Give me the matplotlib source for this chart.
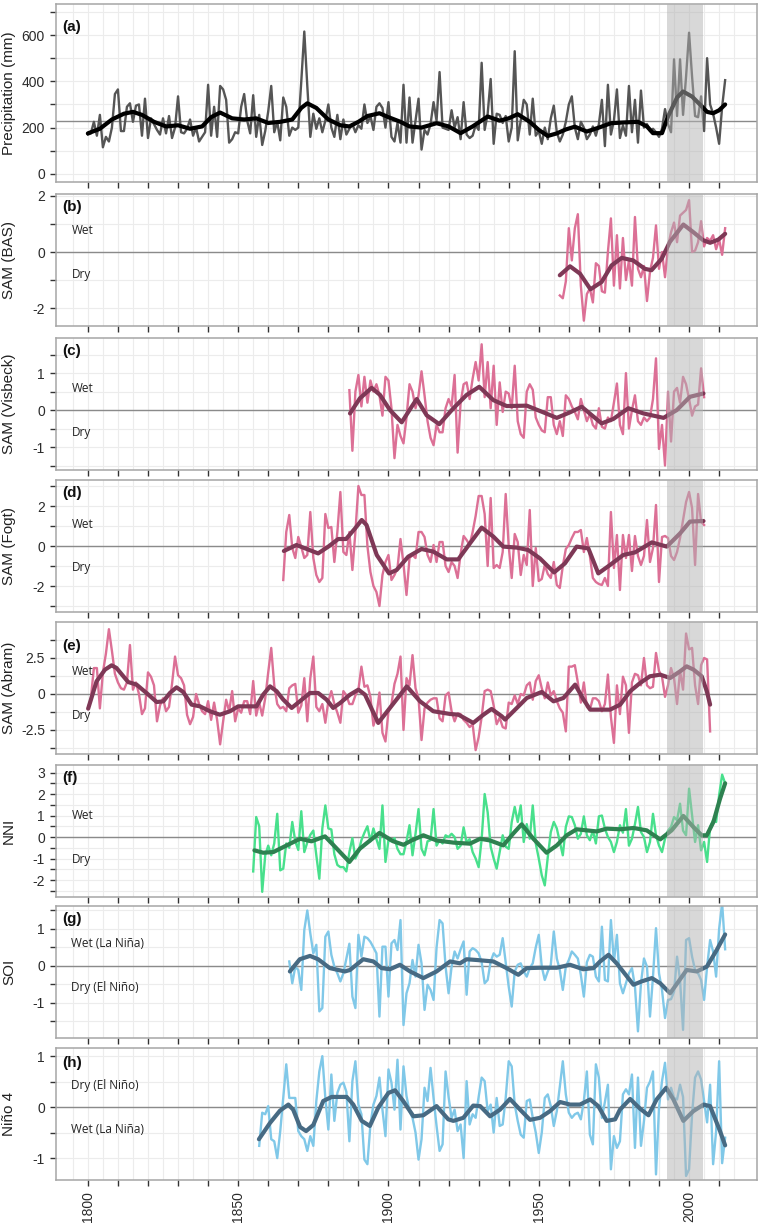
import matplotlib
matplotlib.use("Agg")
from matplotlib import pyplot as plt
from matplotlib.ticker import FixedLocator, FuncFormatter
import numpy as np

# ---- data ----
precip_start = 1800
precip = [170, 175, 225, 165, 255, 115, 160, 140, 200, 345,
          365, 185, 185, 290, 305, 225, 295, 300, 165, 325,
          155, 240, 215, 190, 170, 240, 175, 250, 155, 200,
          335, 180, 175, 195, 235, 165, 200, 140, 160, 180,
          385, 165, 290, 160, 380, 365, 320, 135, 150, 180,
          175, 290, 345, 230, 175, 340, 160, 255, 125, 185,
          270, 380, 180, 225, 145, 330, 290, 165, 200, 190,
          200, 400, 615, 380, 160, 260, 195, 240, 180, 230,
          300, 200, 160, 255, 150, 235, 170, 195, 215, 180,
          210, 195, 300, 220, 250, 190, 290, 305, 285, 200,
          310, 160, 140, 220, 135, 385, 135, 330, 135, 230,
          325, 105, 190, 170, 215, 310, 230, 440, 200, 195,
          190, 275, 200, 245, 150, 310, 170, 155, 165, 210,
          190, 480, 190, 260, 410, 130, 260, 255, 220, 250,
          140, 200, 530, 145, 230, 320, 300, 170, 325, 165,
          185, 130, 200, 150, 240, 295, 180, 140, 170, 225,
          300, 335, 200, 150, 225, 200, 150, 170, 205, 165,
          215, 320, 120, 385, 170, 230, 365, 155, 210, 165,
          380, 180, 320, 135, 360, 200, 215, 185, 195, 180,
          160, 195, 280, 215, 180, 495, 250, 495, 255, 420,
          610, 420, 250, 245, 335, 185, 500, 300, 260, 200,
          130, 290, 405]
precip_sm_years = [1800, 1804, 1808, 1812, 1815, 1818, 1822, 1826, 1830, 1834,
                   1838, 1841, 1844, 1848, 1852, 1856, 1860, 1864, 1868, 1871,
                   1873, 1876, 1880, 1884, 1887, 1890, 1893, 1897, 1900, 1904,
                   1907, 1911, 1916, 1920, 1924, 1928, 1933, 1937, 1940, 1943,
                   1947, 1950, 1953, 1956, 1959, 1962, 1966, 1970, 1974, 1978,
                   1983, 1986, 1988, 1991, 1993, 1996, 1998, 2001, 2004, 2006,
                   2008, 2010, 2012]
precip_sm = [175, 195, 235, 260, 268, 255, 225, 205, 210, 195,
             205, 245, 265, 240, 235, 240, 220, 225, 235, 285,
             305, 285, 235, 210, 205, 225, 250, 262, 245, 225,
             205, 200, 219, 205, 176, 205, 248, 230, 240, 258,
             225, 190, 164, 175, 192, 204, 183, 200, 219, 222,
             225, 205, 176, 176, 248, 330, 356, 334, 295, 268,
             262, 275, 300]

bas_start = 1957
bas = [-1.55, -1.65, -1.05,
       0.85, -0.3, 0.85, 1.35, -1.2, -2.45, -1.5, -1.3, -1.8, -0.4,
       -0.5, -1.4, -1.45, 0.0, 1.2, -1.2, 0.6, -1.3, 0.5, -1.0,
       -0.3, -1.2, 1.25, -0.6, -0.9, -0.5, -1.75, -0.7, -0.2, 0.95,
       -0.6, 0.0, -0.9, 0.2, 0.7, 1.05, 0.35, 1.3, 1.4, 1.5,
       1.85, 0.0, 0.05, 0.35, 1.1, 0.2, 0.5, 0.4, 0.6, 0.1,
       0.45, -0.1, 0.85]
bas_sm_years = [1957, 1960.4, 1963.7, 1967.2, 1970.9, 1974.2, 1977.6, 1981.4, 1985.3,
                1987.5, 1990.9, 1993.6, 1998.1, 2001.4, 2004.7, 2007.0, 2009.7, 2012]
bas_sm = [-0.83, -0.51, -0.77, -1.33, -1.07, -0.48, -0.21, -0.3, -0.6,
          -0.65, -0.24, 0.36, 0.98, 0.71, 0.42, 0.33, 0.44, 0.65]

visbeck_start = 1887
visbeck = [0.54, -1.1, 0.5,
           0.95, 0.1, 0.9, 0.2, 0.8, 0.5, 0.7, 0.4, -0.15, 0.9,
           0.8, 0.05, -1.3, -0.4, -0.7, -0.9, -0.2, 0.7, 0.5, 0.05,
           0.4, 1.05, 0.4, -0.3, -0.75, -0.95, -0.4, -0.6, -0.6, 0.05,
           0.3, 0.1, 0.95, -1.15, 0.2, 0.7, 0.75, 0.3, 0.85, 1.3,
           0.8, 1.78, 0.35, 1.3, 0.05, 1.2, -0.4, 0.75, -0.05, 0.5,
           0.45, 0.05, 1.2, -0.3, -0.65, -0.75, 0.5, 0.7, 0.55, -0.2,
           -0.4, -0.55, -0.6, 0.35, 0.35, -0.4, -0.65, -0.3, -0.7, 0.4,
           0.3, 0.1, -0.05, -0.25, 0.3, 0.0, -0.3, -0.1, -0.4, -0.5,
           0.05, -0.45, -0.5, -0.2, -0.3, 0.2, 0.72, -0.4, -0.65, 1.0,
           -0.5, 0.0, 0.4, -0.3, -0.4, -0.2, -0.3, -0.2, 0.3, 1.4,
           -1.05, -0.4, -1.5, 0.5, -0.85, 0.5, 0.6, 0.2, 0.9, 0.7,
           0.3, -0.15, 0.1, 0.15, 1.13, 0.35]
visbeck_sm_years = [1887.2, 1890.5, 1894.4, 1897.2, 1900.5, 1904.4, 1907.7, 1909.4,
                    1912.7, 1916.9, 1921.6, 1926.0, 1930.2, 1934.9, 1939.3, 1946.0,
                    1951.5, 1956.0, 1960.4, 1964.3, 1970.9, 1974.8, 1979.8, 1984.8,
                    1991.5, 1995.9, 2000.3, 2004.8]
visbeck_sm = [-0.09, 0.32, 0.6, 0.41, 0.0, -0.33, 0.09, 0.3,
              -0.14, -0.38, 0.05, 0.41, 0.63, 0.27, 0.11, 0.12,
              -0.06, -0.21, -0.06, 0.09, -0.36, -0.24, 0.05, -0.09,
              -0.21, 0.0, 0.36, 0.45]

fogt_start = 1865
fogt = [-1.7, 0.7, 1.55, -0.1, -0.6,
        0.45, -0.05, -0.6, -0.45, 1.7, -0.6, -1.45, -1.8, -1.6, 1.6,
        0.9, 0.95, -0.8, 0.7, 2.7, -0.3, -0.45, 0.7, -1.2, 0.7,
        3.0, 2.55, 2.55, 0.0, -1.3, -2.0, -2.3, -3.0, -1.45, -0.8,
        -0.45, -1.7, -1.45, -1.1, 0.35, -0.9, -2.45, -0.6, -0.45, -0.6,
        0.7, 0.7, 0.45, -0.45, -0.8, 0.05, -0.8, 0.2, 0.2, -1.0,
        -1.3, -0.8, -1.0, -1.6, -0.4, 0.5, 0.3, 0.05, 0.7, 1.5,
        2.5, 2.5, 1.6, -1.0, 2.4, -1.1, -0.95, -1.1, -0.3, 2.6,
        0.0, -1.6, 0.6, 0.2, -1.45, -0.45, -0.95, 1.8, -2.0, -0.1,
        -1.75, -1.65, -0.95, -1.4, -1.6, -0.8, -1.95, -2.1, -1.0, -0.15,
        0.05, 0.4, 0.7, 0.7, 0.8, -0.3, 0.4, -0.5, -1.6, -1.8,
        -1.9, -1.95, -1.6, -2.0, 1.7, -1.1, 0.55, -2.2, 0.55, -0.6,
        0.55, -1.25, 0.5, -0.5, -0.95, -0.5, 1.3, -0.8, -0.1, 2.05,
        -1.8, 0.45, 0.5, 0.4, -0.5, -0.7, -0.3, 0.4, 1.3, 2.2,
        2.7, 1.9, -0.95, 2.6, 1.2, 1.05]
fogt_sm_years = [1865.2, 1869.4, 1876.6, 1880.0, 1883.3, 1885.9, 1888.9, 1891.1,
                 1892.7, 1896.1, 1900.2, 1902.7, 1906.6, 1911.0, 1914.9, 1919.4,
                 1923.2, 1927.1, 1931.0, 1934.9, 1938.2, 1942.7, 1946.5, 1950.4,
                 1955.1, 1958.7, 1962.6, 1966.5, 1969.8, 1973.7, 1978.1, 1982.0,
                 1987.6, 1992.6, 1997.0, 2000.3, 2004.8]
fogt_sm = [-0.25, 0.05, -0.37, -0.03, 0.35, 0.35, 0.88, 1.3,
           1.05, -0.45, -1.37, -1.2, -0.53, -0.15, -0.28, -0.67,
           -0.67, 0.13, 0.92, 0.47, -0.03, -0.08, -0.2, -0.62,
           -1.32, -0.87, -0.03, -0.12, -1.37, -0.95, -0.45, -0.32,
           0.18, -0.03, 0.63, 1.22, 1.25]

abram_start = 1800
abram = [-1.0, -0.3, 1.8, 1.8, -1.0, 1.5, 2.8, 4.5, 3.0, 1.4,
         0.8, 0.4, 0.3, 0.8, 3.4, 0.3, 0.8, 0.0, -1.4, -1.0,
         1.5, 1.2, 0.6, -1.9, -0.8, -0.3, -1.2, -0.9, 0.7, 2.6,
         1.3, 1.1, 0.6, -1.45, -2.1, -1.6, 0.0, -0.7, -1.2, -1.4,
         -0.5, -1.8, -0.6, -1.8, -3.5, -1.9, -0.4, -1.2, 0.2, -1.9,
         -1.0, -1.3, -0.5, -0.5, -1.4, 0.9, -1.5, -0.6, -1.5, -0.3,
         1.5, 3.2, 0.6, -0.7, -1.0, -0.9, -1.2, 0.4, 0.6, 0.7,
         -1.3, -0.8, 1.1, -1.9, 1.1, 2.6, -0.9, -1.2, -0.7, -2.0,
         -0.5, 0.2, -0.7, -1.3, -2.0, 0.2, -0.1, -0.7, -0.7, -0.1,
         0.3, 1.9, 0.5, 0.6, -0.2, -2.2, -1.5, 0.1, -2.7, -3.3,
         -1.2, -0.7, 0.7, 1.4, 2.6, -2.5, 1.1, 0.6, 2.7, 0.4,
         -0.3, -3.2, -1.0, -0.6, -0.4, -0.3, -0.3, -1.7, -1.9, -0.1,
         0.1, -1.2, -1.9, -1.35, -1.4, -1.8, -2.0, -2.3, -2.1, -3.9,
         -3.0, -1.6, 0.2, 0.3, 0.2, -0.8, -2.1, -1.65, -2.3, -2.4,
         -0.6, -0.7, -0.1, -0.7, 0.0, -0.1, 0.6, 0.8, -0.4, 0.9,
         1.3, 0.4, -0.3, 0.8, -0.1, 0.2, -0.5, -1.0, -1.3, -2.6,
         1.9, 1.9, 2.0, 0.8, -0.6, 0.8, -0.9, -1.1, -0.3, -0.3,
         -0.5, -1.2, -0.7, 1.35, -1.6, -3.4, 0.6, -1.4, 1.2, 0.6,
         -2.7, 0.8, 1.4, 1.3, 0.6, 2.5, 0.6, 0.4, 0.5, 2.85,
         1.6, 1.2, -0.2, 0.6, 1.8, 1.1, -0.7, 1.6, 0.3, 4.2,
         3.1, 3.2, 0.6, -0.7, 2.0, 2.5, 2.4, -2.6]
abram_sm_years = [1800.1, 1802.9, 1805.7, 1807.9, 1809.5, 1811.8, 1813.4, 1816.2,
                  1819.5, 1822.9, 1825.1, 1827.3, 1829.5, 1831.7, 1834.5, 1837.3,
                  1840.6, 1843.9, 1847.3, 1850.0, 1852.8, 1856.1, 1858.3, 1860.6,
                  1862.8, 1865.0, 1867.8, 1870.5, 1873.9, 1876.6, 1879.4, 1881.6,
                  1883.9, 1887.2, 1890.0, 1892.2, 1896.6, 1906.1, 1910.5, 1914.9,
                  1920.5, 1923.3, 1928.2, 1931.6, 1934.3, 1937.7, 1938.8, 1942.7,
                  1946.0, 1951.0, 1954.9, 1958.2, 1962.1, 1964.9, 1967.1, 1973.7,
                  1977.1, 1980.4, 1983.7, 1987.0, 1990.4, 1993.7, 1997.0, 1999.2,
                  2001.5, 2004.2, 2005.9, 2007.0]
abram_sm = [-1.02, 0.88, 1.69, 1.99, 1.81, 1.23, 0.83, 0.65,
            0.07, -0.56, -0.51, 0.07, 0.46, 0.14, -0.74, -0.86,
            -1.2, -1.44, -1.2, -0.86, -0.86, -0.86, -0.05, 0.53,
            0.19, -0.39, -0.97, -0.51, 0.07, 0.07, -0.39, -0.97,
            -0.63, -0.05, 0.3, -0.05, -2.01, 0.53, -0.51, -1.2,
            -1.39, -1.44, -2.01, -1.44, -1.04, -1.55, -1.78, -0.97,
            -0.28, 0.14, -0.51, -0.28, 0.65, -0.39, -1.09, -1.09,
            -0.74, 0.19, 0.76, 1.23, 1.34, 1.11, 1.57, 1.92,
            1.69, 1.23, 0.19, -0.74]

nni_start = 1855
nni = [-1.6, 0.93, 0.5, -2.55, -0.85,
       -0.4, -0.85, -0.3, 1.08, -1.55, -1.47, -0.3, -0.5, 0.7, -0.2,
       -0.6, 1.2, -0.7, -0.25, 0.1, 0.3, -0.85, -1.94, 0.4, 1.47,
       0.4, 0.35, -0.8, -1.3, -1.4, -1.4, -1.6, -0.7, -0.05, -1.0,
       -0.7, -0.15, 0.2, 0.5, -0.2, 0.4, -0.1, -0.55, 1.47, -1.16,
       -0.15, -0.2, -0.05, -0.55, -0.8, -0.8, -0.2, 0.55, -0.85, 0.15,
       1.3, -0.55, -0.85, -0.2, -0.15, 1.3, -0.4, -0.15, -0.3, 0.08,
       0.0, 0.15, 0.0, -0.55, -0.4, 0.45, -0.25, -0.1, -0.7, -1.0,
       -1.4, -0.1, 2.0, 1.15, -0.45, -1.0, -1.47, -0.7, 0.08, -0.45,
       -0.55, 0.7, 1.4, 0.7, 1.47, -0.23, 0.6, -0.08, 1.47, -0.3,
       -1.0, -1.78, -2.25, -0.93, 0.23, 0.7, 0.4, -0.23, -0.85, 0.47,
       0.96, 0.93, 0.55, -0.08, 0.15, 0.96, 0.08, -0.15, 0.3, -0.3,
       0.96, 1.0, 0.4, 0.0, -0.23, -0.7, -0.23, 0.55, 0.2, 1.3,
       -0.4, -0.08, 0.6, 1.4, 0.23, 0.0, -0.7, -0.23, 1.08, 0.08,
       -0.4, -0.7, -0.08, 0.3, 0.47, 0.93, 0.78, 1.55, 0.3, 0.08,
       2.25, 1.0, -0.23, 0.55, -0.62, -0.23, -1.16, 0.47, 0.78, 0.7,
       1.94, 2.9, 2.5]
nni_sm_years = [1855.4, 1858.3, 1861.7, 1865.0, 1870.6, 1874.4, 1878.9, 1882.8,
                1887.0, 1890.5, 1897.0, 1901.6, 1905.0, 1907.7, 1911.6, 1916.0,
                1921.6, 1927.1, 1930.5, 1933.8, 1938.2, 1941.5, 1944.3, 1948.2,
                1952.6, 1956.0, 1959.3, 1962.6, 1965.9, 1969.3, 1972.6, 1977.0,
                1981.5, 1985.9, 1990.4, 1994.2, 1998.1, 2001.4, 2004.2, 2005.9,
                2008.1, 2010.3, 2012]
nni_sm = [-0.62, -0.73, -0.7, -0.47, -0.08, -0.2, 0.03, -0.54,
          -1.16, -0.54, 0.19, -0.2, -0.36, -0.16, 0.08, -0.16,
          -0.26, -0.31, -0.08, -0.16, -0.39, 0.16, 0.59, -0.08,
          -0.73, -0.39, 0.08, 0.36, 0.31, 0.26, 0.39, 0.36,
          0.42, 0.31, -0.11, 0.31, 0.98, 0.47, 0.08, 0.08,
          0.7, 1.78, 2.5]

soi_start = 1867
soi = [0.12, -0.47, -0.02,
       -0.11, -0.65, 0.97, 1.5, 0.88, 0.34, 0.57, -1.23, -1.14, 0.79,
       0.93, 0.3, -0.02, -0.2, -0.42, -0.2, 0.2, 0.6, -0.83, -1.14,
       0.84, 0.25, 0.79, 0.75, 0.65, 0.5, 0.34, -1.37, 0.52, 0.52,
       -0.83, 0.61, 0.7, 0.43, 1.24, -1.6, -0.74, -0.47, 0.16, -0.29,
       0.57, 0.07, -1.19, -0.51, -0.65, -0.92, 0.5, 1.24, 1.15, -0.02,
       -0.74, -0.02, 0.39, 0.2, 0.45, 0.66, -0.78, 0.39, 0.48, 0.43,
       0.34, 0.1, -0.47, -0.38, 0.12, 0.34, 0.25, 0.3, 0.75, 0.1,
       -0.56, -1.1, -0.15, 0.03, 0.07, -0.15, -0.29, -0.06, 0.07, 0.5,
       0.84, -0.02, -0.38, -0.15, 0.03, 0.93, 0.2, -0.11, -0.65, -0.02,
       0.16, 0.39, 0.3, 0.2, -0.24, -0.83, 0.1, 0.3, 0.25, -0.29,
       -0.42, 1.06, -0.38, -0.42, 1.24, 0.12, 0.84, -0.47, -0.74, -0.47,
       -0.2, -0.06, -0.56, -1.77, -0.47, 0.2, -0.02, -1.37, -0.29, 1.02,
       -0.2, -0.65, -1.41, -0.92, -0.9, -0.7, 0.25, -0.38, -1.73, 0.7,
       0.75, 0.25, -0.11, -0.2, -0.38, -0.92, -0.02, 0.7, 0.39, -0.29,
       1.0, 1.7, 0.45]
soi_sm_years = [1867.2, 1870.5, 1873.9, 1876.6, 1880.5, 1885.5, 1887.2, 1891.6,
                1895.0, 1897.7, 1900.5, 1903.8, 1907.2, 1911.6, 1916.0, 1920.5,
                1923.8, 1926.0, 1929.3, 1934.9, 1939.3, 1943.2, 1946.0, 1950.4,
                1956.0, 1960.4, 1964.8, 1968.2, 1970.4, 1973.2, 1975.9, 1978.7,
                1981.5, 1984.2, 1987.6, 1990.4, 1993.7, 1996.5, 1999.2, 2002.6,
                2005.9, 2009.2, 2012]
soi_sm = [-0.15, 0.18, 0.27, 0.18, -0.06, -0.15, -0.11, 0.18,
          0.12, -0.06, -0.09, 0.03, -0.15, -0.33, -0.15, 0.12,
          0.07, 0.18, 0.16, 0.12, -0.06, -0.24, -0.06, -0.05,
          -0.05, 0.03, -0.09, -0.06, 0.12, 0.3, 0.07, -0.22,
          -0.51, -0.42, -0.33, -0.47, -0.74, -0.42, -0.11, -0.15,
          -0.02, 0.43, 0.85]

nino4_start = 1857
nino4 = [-0.76, -0.11, -0.14,
         0.02, -0.63, -0.67, -1.0, -0.47, 0.18, 0.84, 0.18, 0.18, 0.18,
         -0.47, -0.57, -0.63, -0.86, -0.57, -0.76, 0.12, 0.7, 1.0, 0.18,
         -0.44, 0.64, -0.27, 0.28, 0.44, 0.48, 0.3, -0.67, 0.51, 0.9,
         0.05, -0.14, -1.03, -1.12, -0.34, 0.05, 0.22, 0.58, -0.05, -0.57,
         0.74, 0.48, -0.05, 0.93, -0.44, 0.8, 0.22, -0.08, -0.21, -0.5,
         -1.03, -0.63, 0.38, 0.12, 0.77, 0.18, -0.37, -0.86, -0.73, 0.7,
         0.2, -0.21, -0.05, -0.47, -0.34, -1.0, 0.51, -0.34, -0.14, -0.21,
         0.2, 0.58, 0.51, -0.08, 0.05, -0.5, 0.18, -0.37, -0.34, 0.18,
         0.9, 0.8, 0.05, -0.27, -0.54, -0.6, 0.12, 0.15, -0.21, -0.5,
         -0.9, -0.5, 0.18, 0.25, 0.02, -0.37, -0.08, 0.4, 0.9, 0.25,
         -0.11, -0.21, -0.14, -0.11, -0.24, 0.12, 0.7, -0.54, -0.73, 0.84,
         0.58, -0.21, 0.1, 0.44, -1.22, -0.57, -0.8, -0.67, 0.25, 0.35,
         0.25, 0.64, -0.8, 0.58, -0.76, -0.27, 0.38, 0.5, 0.7, -1.32,
         -0.01, 0.51, 0.87, 0.15, 0.38, 0.18, 0.15, 0.44, 0.2, -1.35,
         -1.22, -0.14, 0.58, 0.7, 0.54, 0.12, -0.3, 0.44, -1.12, -0.47,
         0.9, -1.1, -0.6]
nino4_sm_years = [1856.9, 1860.6, 1863.9, 1866.7, 1868.3, 1870.6, 1872.6, 1875.0,
                  1878.3, 1881.1, 1886.1, 1888.3, 1891.1, 1893.8, 1896.6, 1900.0,
                  1902.2, 1904.9, 1908.3, 1911.6, 1916.0, 1919.9, 1921.6, 1924.9,
                  1928.2, 1930.5, 1933.8, 1937.1, 1940.4, 1943.8, 1947.1, 1950.4,
                  1953.7, 1957.1, 1960.4, 1963.7, 1967.1, 1969.8, 1972.6, 1975.4,
                  1977.0, 1980.4, 1983.7, 1986.5, 1989.2, 1992.4, 1994.8, 1998.1,
                  2001.4, 2004.8, 2007.0, 2010.3, 2012]
nino4_sm = [-0.63, -0.31, -0.07, 0.05, -0.05, -0.39, -0.47, -0.35,
            0.12, 0.2, 0.2, 0.05, -0.27, -0.37, -0.01, 0.28,
            0.33, 0.12, -0.18, -0.16, 0.02, -0.24, -0.27, -0.21,
            0.03, 0.02, -0.18, -0.05, 0.16, -0.05, -0.25, -0.21,
            -0.08, 0.1, 0.05, 0.05, 0.15, 0.02, -0.27, -0.24,
            -0.05, 0.16, -0.03, -0.16, 0.15, 0.38, 0.15, -0.27,
            -0.08, 0.05, 0.02, -0.47, -0.75]

# 1992/93 - 2004 highlighted period
shade_years = (1992.5, 2004.5)

# ---- layout (pixels of the 761 x 1225 image) ----
W, H = 761, 1225
LEFT, RIGHT = 56, 757
XLIM = (1789.4, 2022.6)

GREY = ("#555555", "#000000")
PINK = ("#dc7096", "#7e3856")
GREEN = ("#48e08c", "#2e8150")
BLUE = ("#80c8e8", "#476a83")

panels = [
    dict(box=(4, 182), start=precip_start, ann=precip, sy=precip_sm_years, sv=precip_sm,
         col=GREY, ylim=(-35, 734), major=[0, 200, 400, 600], minor=[100, 300, 500, 700],
         ylabel="Precipitation (mm)", tag="(a)", tag_dy=16, ref=230, notes=None),
    dict(box=(194, 326), start=bas_start, ann=bas, sy=bas_sm_years, sv=bas_sm,
         col=PINK, ylim=(-2.64, 2.07), major=[-2, 0, 2], minor=[-1, 1],
         ylabel="SAM (BAS)", tag="(b)", tag_dy=6, ref=0, notes=("Wet", "Dry")),
    dict(box=(338, 470), start=visbeck_start, ann=visbeck, sy=visbeck_sm_years, sv=visbeck_sm,
         col=PINK, ylim=(-1.62, 1.95), major=[-1, 0, 1], minor=[-1.5, -0.5, 0.5, 1.5],
         ylabel="SAM (Visbeck)", tag="(c)", tag_dy=6, ref=0, notes=("Wet", "Dry")),
    dict(box=(480, 612), start=fogt_start, ann=fogt, sy=fogt_sm_years, sv=fogt_sm,
         col=PINK, ylim=(-3.3, 3.3), major=[-2, 0, 2], minor=[-3, -1, 1, 3],
         ylabel="SAM (Fogt)", tag="(d)", tag_dy=6, ref=0, notes=("Wet", "Dry")),
    dict(box=(622, 754), start=abram_start, ann=abram, sy=abram_sm_years, sv=abram_sm,
         col=PINK, ylim=(-4.17, 5.0), major=[-2.5, 0, 2.5], minor=[-3.75, -1.25, 1.25, 3.75],
         ylabel="SAM (Abram)", tag="(e)", tag_dy=17, ref=0, notes=("Wet", "Dry")),
    dict(box=(765, 897), start=nni_start, ann=nni, sy=nni_sm_years, sv=nni_sm,
         col=GREEN, ylim=(-2.79, 3.35), major=[-2, -1, 0, 1, 2, 3],
         minor=[-2.5, -1.5, -0.5, 0.5, 1.5, 2.5],
         ylabel="NNI", tag="(f)", tag_dy=6, ref=0, notes=("Wet", "Dry")),
    dict(box=(906, 1038), start=soi_start, ann=soi, sy=soi_sm_years, sv=soi_sm,
         col=BLUE, ylim=(-1.95, 1.62), major=[-1, 0, 1], minor=[-1.5, -0.5, 0.5, 1.5],
         ylabel="SOI", tag="(g)", tag_dy=6, ref=0, notes=("Wet (La Niña)", "Dry (El Niño)")),
    dict(box=(1048, 1180), start=nino4_start, ann=nino4, sy=nino4_sm_years, sv=nino4_sm,
         col=BLUE, ylim=(-1.43, 1.16), major=[-1, 0, 1], minor=[-0.5, 0.5],
         ylabel="Niño 4", tag="(h)", tag_dy=8, ref=0, notes=("Dry (El Niño)", "Wet (La Niña)")),
]


def fmt_num(v, pos):
    if float(v).is_integer():
        return "%d" % v
    return "%g" % v


def draw_panel(fig, p, bottom):
    top, bot = p["box"]
    ax = fig.add_axes([LEFT / W, 1 - bot / H, (RIGHT - LEFT) / W, (bot - top) / H])
    ax.set_xlim(*XLIM)
    ax.set_ylim(*p["ylim"])

    ax.set_axisbelow(True)
    ax.xaxis.set_major_locator(FixedLocator(list(range(1800, 2011, 10))))
    ax.xaxis.set_minor_locator(FixedLocator(list(range(1795, 2021, 10))))
    ax.yaxis.set_major_locator(FixedLocator(p["major"]))
    ax.yaxis.set_minor_locator(FixedLocator(p["minor"]))
    ax.grid(which="both", color="#ececec", lw=0.8)

    ax.axhline(p["ref"], color="#8a8a8a", lw=1.0, zorder=1.5)

    years = np.arange(p["start"], p["start"] + len(p["ann"]))
    ax.plot(years, p["ann"], color=p["col"][0], lw=1.7, solid_joinstyle="round", zorder=2)
    ax.plot(p["sy"], p["sv"], color=p["col"][1], lw=3.0, solid_joinstyle="round",
            solid_capstyle="round", zorder=3)

    ax.axvspan(shade_years[0], shade_years[1], facecolor="#b2b2b2", alpha=0.5,
               lw=0, zorder=4)

    for s in ax.spines.values():
        s.set_color("#a6a6a6")
        s.set_linewidth(1.1)

    ax.tick_params(axis="both", which="both", direction="out", length=4, width=1,
                   color="#333333", labelsize=10, labelcolor="#2b2b2b", pad=4)
    ax.tick_params(axis="x", which="minor", length=0)
    ax.yaxis.set_major_formatter(FuncFormatter(fmt_num))
    if bottom:
        ax.xaxis.set_major_formatter(
            FuncFormatter(lambda x, pos: "%d" % x if int(round(x)) % 50 == 0 else ""))
        plt.setp(ax.get_xticklabels(), rotation=90)
    else:
        ax.set_xticklabels([])

    ax.set_ylabel(p["ylabel"], fontsize=11, color="#222222")
    ax.yaxis.set_label_coords(-0.057, 0.5)

    ax.annotate(p["tag"], xy=(0.009, 1.0), xycoords="axes fraction",
                xytext=(0, -p["tag_dy"]), textcoords="offset pixels", fontsize=11,
                fontweight="bold", va="top", ha="left", color="#111111")

    if p["notes"]:
        up, down = p["notes"]
        ax.annotate(up, xy=(0.022, p["ref"]), xycoords=("axes fraction", "data"),
                    xytext=(0, 22), textcoords="offset pixels", fontsize=8.5,
                    va="center", ha="left", color="#222222", family="Open Sans")
        ax.annotate(down, xy=(0.022, p["ref"]), xycoords=("axes fraction", "data"),
                    xytext=(0, -22), textcoords="offset pixels", fontsize=8.5,
                    va="center", ha="left", color="#222222", family="Open Sans")
    return ax


def main():
    plt.rcParams["font.family"] = ["Liberation Sans", "DejaVu Sans"]
    fig = plt.figure(figsize=(W / 100, H / 100), dpi=100)
    for i, p in enumerate(panels):
        draw_panel(fig, p, i == len(panels) - 1)
    fig.savefig("out.png", dpi=100)


if __name__ == "__main__":
    main()
